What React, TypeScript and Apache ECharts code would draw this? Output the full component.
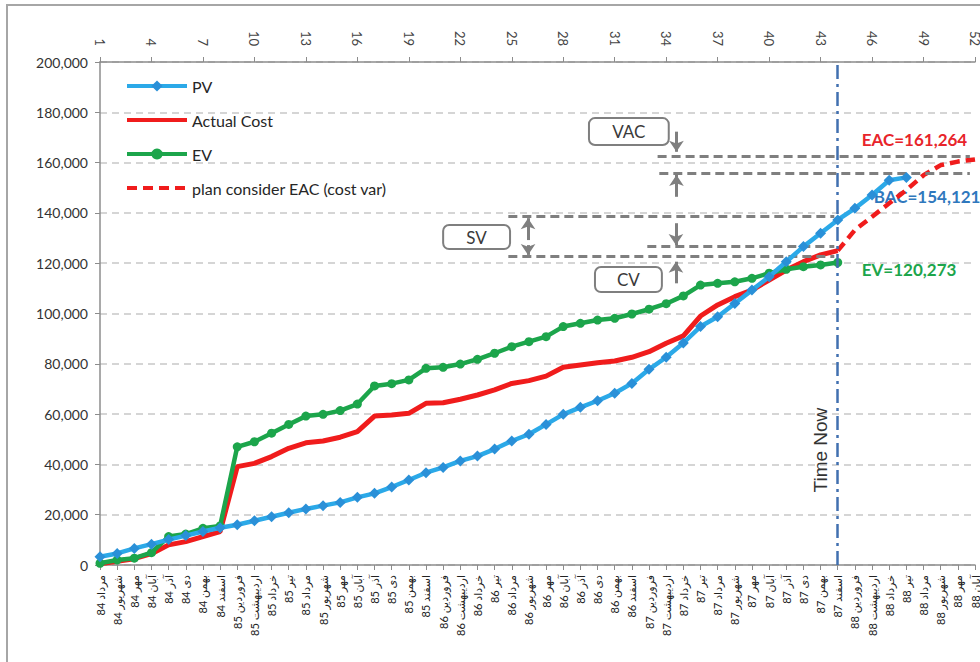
import React, { useEffect, useRef } from "react";
import * as echarts from "echarts";

// ---- data ----
const persianMonths = ["فروردین", "اردیبهشت", "خرداد", "تیر", "مرداد", "شهریور", "مهر", "آبان", "آذر", "دی", "بهمن", "اسفند"];
const firstMonthIndexInYear = 4; // مرداد
const firstYear = 84;
const periodCount = 52;
const categories: string[] = Array.from({ length: periodCount }, (_, i) => {
  const absolute = firstMonthIndexInYear + i;
  const year = firstYear + Math.floor(absolute / 12);
  return `${year} ${persianMonths[absolute % 12]}`;
});

const pvValues = [
  3300, 4600, 6600, 8300, 10100, 11700, 13300, 14800, 16000, 17600, 19200, 20800,
  22300, 23600, 24900, 26900, 28500, 31000, 33800, 36700, 38800, 41400, 43300, 46100,
  49300, 52000, 55900, 59900, 62700, 65300, 68300, 72200, 77800, 82600, 88300, 94800,
  98700, 104000, 109300, 114600, 120600, 126600, 131900, 137200, 141800, 147100, 153000, 154121,
];
const actualCostValues = [
  500, 1500, 2500, 4500, 8000, 9300, 11300, 13300, 39100, 40400, 43100, 46400,
  48600, 49300, 50800, 53000, 59200, 59600, 60300, 64300, 64500, 65900, 67600, 69600,
  72200, 73300, 75100, 78600, 79500, 80400, 81100, 82600, 84800, 88200, 91100, 99000,
  103400, 106700, 109300, 113300, 117300, 120600, 123300, 125000,
];
const evValues = [
  700, 2000, 2700, 4900, 11300, 12300, 14600, 15500, 47000, 49000, 52400, 55900,
  59200, 59900, 61400, 64000, 71200, 72100, 73600, 78200, 78600, 79900, 81800, 84200,
  86800, 88800, 90800, 94800, 96100, 97400, 98100, 99800, 101700, 103900, 107000, 111300,
  112000, 112600, 114000, 116000, 117600, 118600, 119300, 120273,
];
const planStartPeriod = 43;
const planValues = [125000, 133200, 138500, 143800, 149100, 155000, 159000, 160400, 161264];
const timeNowPeriod = 43;

const seriesNames = ["PV", "Actual Cost", "EV", "plan consider EAC (cost var)"];
const yTicks = { min: 0, max: 200000, step: 20000 };

// annotation geometry in data space
const guideLines: [number, number, number][] = [
  // [fromPeriod, toPeriod, value]
  [32.5, 50.7, 162350],
  [32.6, 50.7, 155700],
  [23.8, 42.8, 138500],
  [31.9, 42.8, 126800],
  [23.8, 42.8, 122600],
];
const arrows: [number, number, number][] = [
  // [period, fromValue, toValue]
  [33.6, 172300, 164300],
  [33.6, 146400, 155100],
  [24.95, 129200, 137900],
  [24.95, 127200, 123300],
  [33.57, 135900, 127200],
  [33.57, 112000, 120600],
];
const boxes: { text: string; p1: number; v1: number; p2: number; v2: number }[] = [
  { text: "VAC", p1: 28.5, v1: 177700, p2: 33.15, v2: 167000 },
  { text: "SV", p1: 20.0, v1: 135200, p2: 23.9, v2: 125600 },
  { text: "CV", p1: 28.85, v1: 118500, p2: 32.75, v2: 108500 },
];
const valueLabels = [
  { text: "EAC=161,264", p: 44.4, v: 169000, color: "#E8242A" },
  { text: "BAC=154,121", p: 45.1, v: 146700, color: "#2F78BD" },
  { text: "EV=120,273", p: 44.4, v: 117300, color: "#1CA54B" },
];
const timeNowLabel = { text: "Time Now", p: 41.97, v: 45700 };

const FONT = "Lato, 'DejaVu Sans', sans-serif";

export default function App() {
  const ref = useRef<HTMLDivElement>(null);
  useEffect(() => {
    if (!ref.current) return;
    const chart = echarts.init(ref.current, null, { renderer: "svg" });
    const option: any = {
      animation: false,
      backgroundColor: "#ffffff",
      textStyle: { fontFamily: FONT },
      grid: { left: 100, right: 5, top: 62, bottom: 97, outerBoundsMode: "none", containLabel: false },
      legend: {
        data: [
          { name: seriesNames[0] },
          { name: seriesNames[1], itemStyle: { opacity: 0 } },
          { name: seriesNames[2] },
          { name: seriesNames[3], itemStyle: { opacity: 0 } },
        ],
        orient: "vertical",
        left: 120,
        top: 73,
        itemWidth: 60,
        itemHeight: 14,
        itemGap: 18,
        lineStyle: { width: 4 },
        textStyle: { fontSize: 16, color: "#262626", fontFamily: FONT },
      },
      xAxis: [
        {
          type: "value",
          position: "bottom",
          min: 0,
          max: periodCount - 1,
          interval: 1,
          axisLine: { show: true, onZero: false, lineStyle: { color: "#8C8C8C", width: 1.5 } },
          axisTick: { show: true, length: 5, lineStyle: { color: "#8C8C8C" } },
          splitLine: { show: false },
          axisLabel: {
            rotate: 90,
            margin: 10,
            fontSize: 11,
            color: "#222",
            fontFamily: FONT,
            showMinLabel: true,
            showMaxLabel: true,
            formatter: (v: number) => categories[Math.round(v)] ?? "",
          },
        },
        {
          type: "value",
          position: "top",
          min: 0,
          max: periodCount - 1,
          interval: 3,
          axisLine: { show: true, onZero: false, lineStyle: { color: "#8C8C8C", width: 1.5 } },
          axisTick: { show: true, length: 5, lineStyle: { color: "#8C8C8C" } },
          splitLine: { show: false },
          axisLabel: {
            rotate: 90,
            margin: 16,
            fontSize: 13,
            color: "#444",
            fontFamily: FONT,
            showMinLabel: true,
            showMaxLabel: true,
            formatter: (v: number) => String(Math.round(v) + 1),
          },
        },
      ],
      yAxis: {
        type: "value",
        min: yTicks.min,
        max: yTicks.max,
        interval: yTicks.step,
        axisLine: { show: true, lineStyle: { color: "#8C8C8C", width: 1.5 } },
        axisTick: { show: true, length: 5, lineStyle: { color: "#8C8C8C" } },
        splitLine: { show: true, lineStyle: { color: "#C8C8C8", width: 1.5, type: [7, 5] } },
        axisLabel: {
          fontSize: 14,
          color: "#333",
          margin: 12,
          fontFamily: FONT,
          formatter: (v: number) => v.toLocaleString("en-US"),
        },
      },
      series: [
        {
          name: "Actual Cost",
          type: "line",
          data: actualCostValues.map((v, i) => [i, v]),
          symbol: "none",
          lineStyle: { color: "#F01C1C", width: 5 },
          itemStyle: { color: "#F01C1C" },
          z: 3,
          markLine: {
            silent: true,
            symbol: ["none", "none"],
            label: { show: false },
            lineStyle: { color: "#4170B0", width: 2.5, type: [14, 5, 3, 5] },
            data: [{ xAxis: timeNowPeriod }],
          },
        },
        {
          name: "plan consider EAC (cost var)",
          type: "line",
          data: planValues.map((v, i) => [planStartPeriod + i, v]),
          symbol: "none",
          lineStyle: { color: "#F01C1C", width: 4.5, type: [10, 6] },
          itemStyle: { color: "#F01C1C" },
          z: 3,
        },
        {
          name: "EV",
          type: "line",
          data: evValues.map((v, i) => [i, v]),
          symbol: "circle",
          symbolSize: 9,
          lineStyle: { color: "#1CA54B", width: 4.5 },
          itemStyle: { color: "#1CA54B" },
          z: 4,
          markLine: {
            silent: true,
            symbol: ["none", "none"],
            label: { show: false },
            lineStyle: { color: "#7F7F7F", width: 3, type: [9, 5] },
            data: guideLines.map(([p1, p2, v]) => [{ coord: [p1, v] }, { coord: [p2, v] }]),
          },
        },
        {
          name: "PV",
          type: "line",
          data: pvValues.map((v, i) => [i, v]),
          symbol: "diamond",
          symbolSize: 11,
          lineStyle: { color: "#2BA9E8", width: 4.5 },
          itemStyle: { color: "#2A90D8" },
          z: 5,
          markLine: {
            silent: true,
            symbol: ["none", "arrow"],
            symbolSize: 11,
            label: { show: false },
            lineStyle: { color: "#7F7F7F", width: 3, type: "solid" },
            data: arrows.map(([p, a, b]) => [{ coord: [p, a] }, { coord: [p, b] }]),
          },
        },
      ],
    };
    chart.setOption(option);

    const P = (p: number, v: number) =>
      chart.convertToPixel({ xAxisIndex: 0, yAxisIndex: 0 }, [p, v]) as number[];

    const graphics: any[] = [
      {
        type: "rect",
        silent: true,
        z: 0,
        shape: { x: 7, y: 5, width: 1200, height: 900 },
        style: { fill: "none", stroke: "#A6A6A6", lineWidth: 2 },
      },
    ];
    boxes.forEach((b) => {
      const [x1, y1] = P(b.p1, b.v1);
      const [x2, y2] = P(b.p2, b.v2);
      graphics.push({
        type: "rect",
        z: 10,
        shape: { x: x1, y: y1, width: x2 - x1, height: y2 - y1, r: 6 },
        style: { fill: "#ffffff", stroke: "#7F7F7F", lineWidth: 2 },
      });
      graphics.push({
        type: "text",
        z: 11,
        x: (x1 + x2) / 2,
        y: (y1 + y2) / 2,
        style: {
          text: b.text,
          fill: "#3A3A3A",
          font: `17px ${FONT}`,
          align: "center",
          verticalAlign: "middle",
        },
      });
    });
    valueLabels.forEach((l) => {
      const [x, y] = P(l.p, l.v);
      graphics.push({
        type: "text",
        z: 1,
        x,
        y,
        style: {
          text: l.text,
          fill: l.color,
          font: `bold 17px ${FONT}`,
          align: "left",
          verticalAlign: "middle",
        },
      });
    });
    {
      const [x, y] = P(timeNowLabel.p, timeNowLabel.v);
      graphics.push({
        type: "text",
        z: 10,
        x,
        y,
        rotation: Math.PI / 2,
        style: {
          text: timeNowLabel.text,
          fill: "#333",
          font: `19px 'Liberation Sans', Arial, sans-serif`,
          align: "center",
          verticalAlign: "middle",
        },
      });
    }
    chart.setOption({ graphic: graphics });

    return () => chart.dispose();
  }, []);
  return <div ref={ref} style={{ position: "fixed", left: 0, top: 0, width: 980, height: 662 }} />;
}
